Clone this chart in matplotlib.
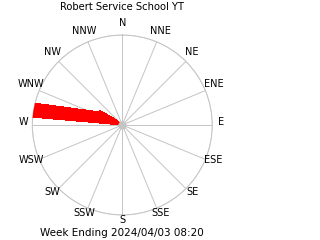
import numpy as np
import matplotlib

matplotlib.use("Agg")
import matplotlib.pyplot as plt  # noqa: E402
from matplotlib.transforms import offset_copy  # noqa: E402

plt.rcParams["font.family"] = ["DejaVu Sans"]

# ---------------------------------------------------------------------------
# data (compass degrees, fraction of max)
# ---------------------------------------------------------------------------
title = "Robert Service School YT"
footer = "Week Ending 2024/04/03 08:20"
compass_labels = ["N", "NNE", "NE", "ENE", "E", "ESE", "SE", "SSE",
                  "S", "SSW", "SW", "WSW", "W", "WNW", "NW", "NNW"]
rose_dir = [0.0, 275.0, 284.0, 300.0, 303.0, 312.0, 0.0]
rose_frac = [0.0, 1.0, 1.0, 0.29, 0.295, 0.083, 0.0]

GRID = "#c4c4c4"

fig = plt.figure(figsize=(3.2, 2.4), dpi=100)
ax = fig.add_axes([0.1009, 0.1042, 0.5625, 0.75], projection="polar")
ax.set_theta_zero_location("N")
ax.set_theta_direction(-1)
ax.set_ylim(0, 1.0)
ax.set_axisbelow(True)

angles = np.arange(len(compass_labels)) * 22.5
ax.set_thetagrids(angles, [""] * len(angles))
ax.set_rgrids([1.0], [""])
ax.grid(True, color=GRID, linewidth=0.7)
ax.spines["polar"].set_color(GRID)
ax.spines["polar"].set_linewidth(0.7)
ax.tick_params(length=0)

ax.fill(np.deg2rad(rose_dir), rose_frac, color="red", linewidth=0,
        antialiased=False, zorder=3)
ax.plot([0], [0], "o", ms=5, color=GRID, mec=GRID, zorder=4)

# labels sit a few pixels higher than a centred ring
lab_tr = offset_copy(ax.transData, fig=fig, x=0, y=3.25, units="dots")
for a, lab in zip(angles, compass_labels):
    ax.text(np.deg2rad(a), 1.097, lab, ha="center", va="center",
            fontsize=7, clip_on=False, transform=lab_tr)

fig.text(122.3 / 320, 1 - 6.5 / 240, title, ha="center", va="center",
         fontsize=7.2)
fig.text(122.3 / 320, 1 - 233 / 240, footer, ha="center", va="center",
         fontsize=7.5)

fig.savefig("out.png", dpi=100)
plt.close(fig)
